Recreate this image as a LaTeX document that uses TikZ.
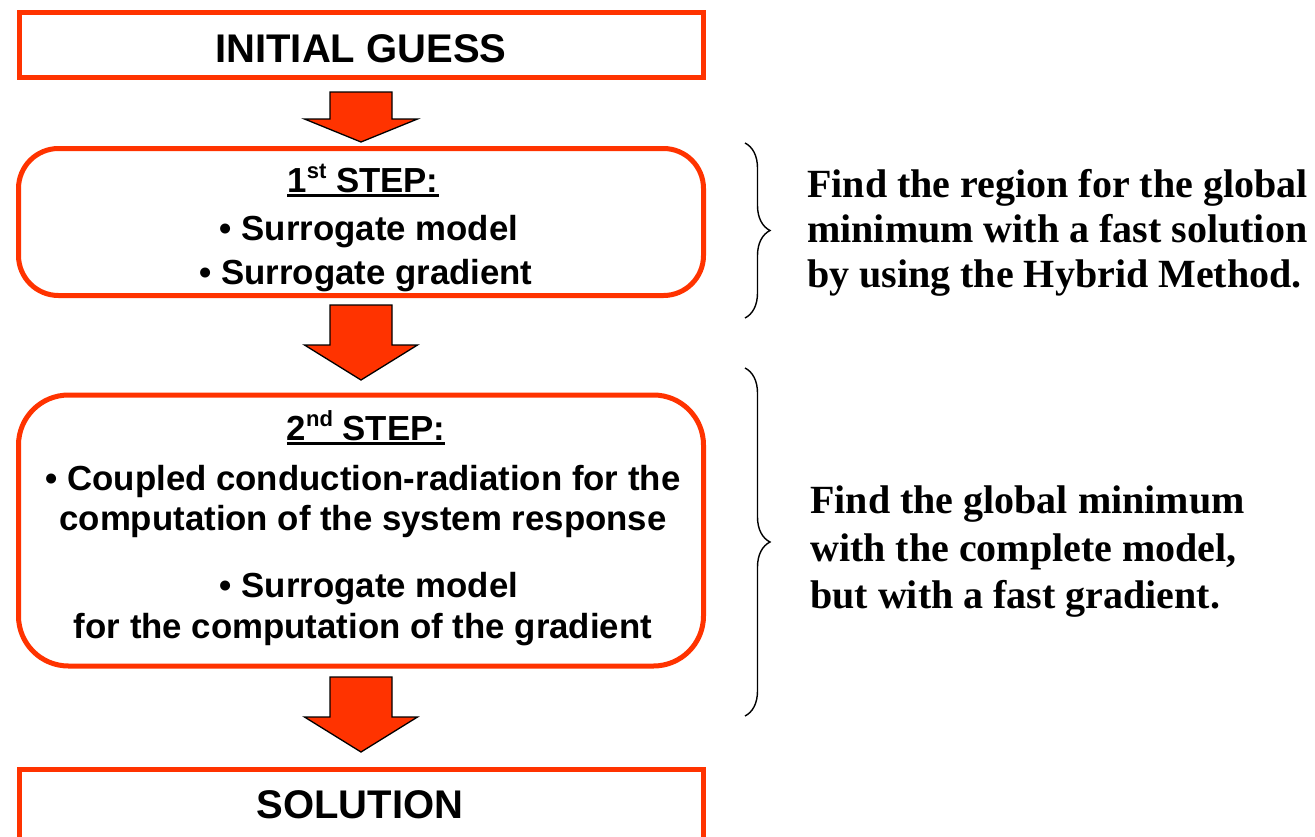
\documentclass[tikz,border=0pt]{standalone}
\usepackage{fontspec}
\newfontfamily\hv{Liberation Sans}
\newfontfamily\tm{Liberation Serif}
\usetikzlibrary{calc,decorations.pathreplacing}
\definecolor{ored}{RGB}{255,51,0}
\newcommand\ulx[1]{\setbox0\hbox{#1}\rlap{\rule[-5pt]{\wd0}{3pt}}\box0}
\newcommand\supx[1]{\raisebox{0.38em}{\fontsize{22}{22}\selectfont #1}}
\newcommand\blockarrow[5]{%
  \path ($(#1.south)+(0,#3)$) coordinate (st)
        ($(#2.north)+(0,-#4)$) coordinate (tp)
        ($(tp)+(0,-#5)$) coordinate (hb);
  \draw[arrowbody] ($(st)+(-31,0)$) -- ($(st)+(31,0)$) -- ($(hb)+(31,0)$)
    -- ($(hb)+(56.5,0)$) -- (tp) -- ($(hb)+(-56.5,0)$) -- ($(hb)+(-31,0)$) -- cycle;}
\begin{document}
\begin{tikzpicture}[x=1pt,y=-1pt,
  sqbox/.style={draw=ored,line width=5pt,inner sep=0pt,outer sep=0pt,fill=white},
  rdbox/.style={sqbox,rounded corners=#1},
  arrowbody/.style={draw=black,line width=1.3pt,fill=ored,line join=miter},
  title/.style={anchor=base,inner sep=0pt,font=\hv\bfseries\fontsize{40}{40}\selectfont},
  item/.style={anchor=base,inner sep=0pt,font=\hv\bfseries\fontsize{34.8}{34.8}\selectfont},
  note/.style={anchor=base west,inner sep=0pt,font=\tm\bfseries\fontsize{40}{40}\selectfont},
  bracestyle/.style={draw=black,line width=1.4pt,decorate,decoration={brace,amplitude=25pt}}]
\useasboundingbox (0,0) rectangle (1315,836);
\clip (0,0) rectangle (1315,836);
\fill[white] (0,0) rectangle (1315,836);

\node[sqbox,minimum width=684pt,minimum height=65pt] (b1) at (361,45) {};
\node[rdbox=40pt,minimum width=685pt,minimum height=147pt] (b2) at (361,222) {};
\node[rdbox=50pt,minimum width=685pt,minimum height=271pt] (b3) at (361,530.5) {};
\node[sqbox,minimum width=684pt,minimum height=100pt] (b4) at (361,819.5) {};

\node[title] (t1) at (361,62) {INITIAL GUESS};
\node[item] (s1h) at (363,192) {\ulx{1\supx{st} STEP:}};
\node[item] (s1a) at (369,240) {• Surrogate model};
\node[item] (s1b) at (366,284) {• Surrogate gradient};
\node[item] (s2h) at (366,440) {\ulx{2\supx{nd} STEP:}};
\node[item] (s2a) at (363,490) {• Coupled conduction-radiation for the};
\node[item] (s2b) at (363,530) {computation of the system response};
\node[item] (s2c) at (369,597) {• Surrogate model};
\node[item] (s2d) at (363,638) {for the computation of the gradient};
\node[title] (t4) at (360,818) {SOLUTION};

\blockarrow{b1}{b2}{14.5}{6.5}{23}
\blockarrow{b2}{b3}{9.5}{15}{35}
\blockarrow{b3}{b4}{11}{17.5}{35}

\draw[bracestyle] (745,143) coordinate (br1a) -- (745,318) coordinate (br1b);
\draw[bracestyle] (745,368) coordinate (br2a) -- (745,716) coordinate (br2b);

\node[note] (n1a) at (807,197) {Find the region for the global};
\node[note] (n1b) at (807,242) {minimum with a fast solution};
\node[note] (n1c) at (807,287) {by using the Hybrid Method.};
\node[note] (n2a) at (810,513) {Find the global minimum};
\node[note] (n2b) at (810,561) {with the complete model,};
\node[note] (n2c) at (810,608) {but with a fast gradient.};
\end{tikzpicture}
\end{document}
